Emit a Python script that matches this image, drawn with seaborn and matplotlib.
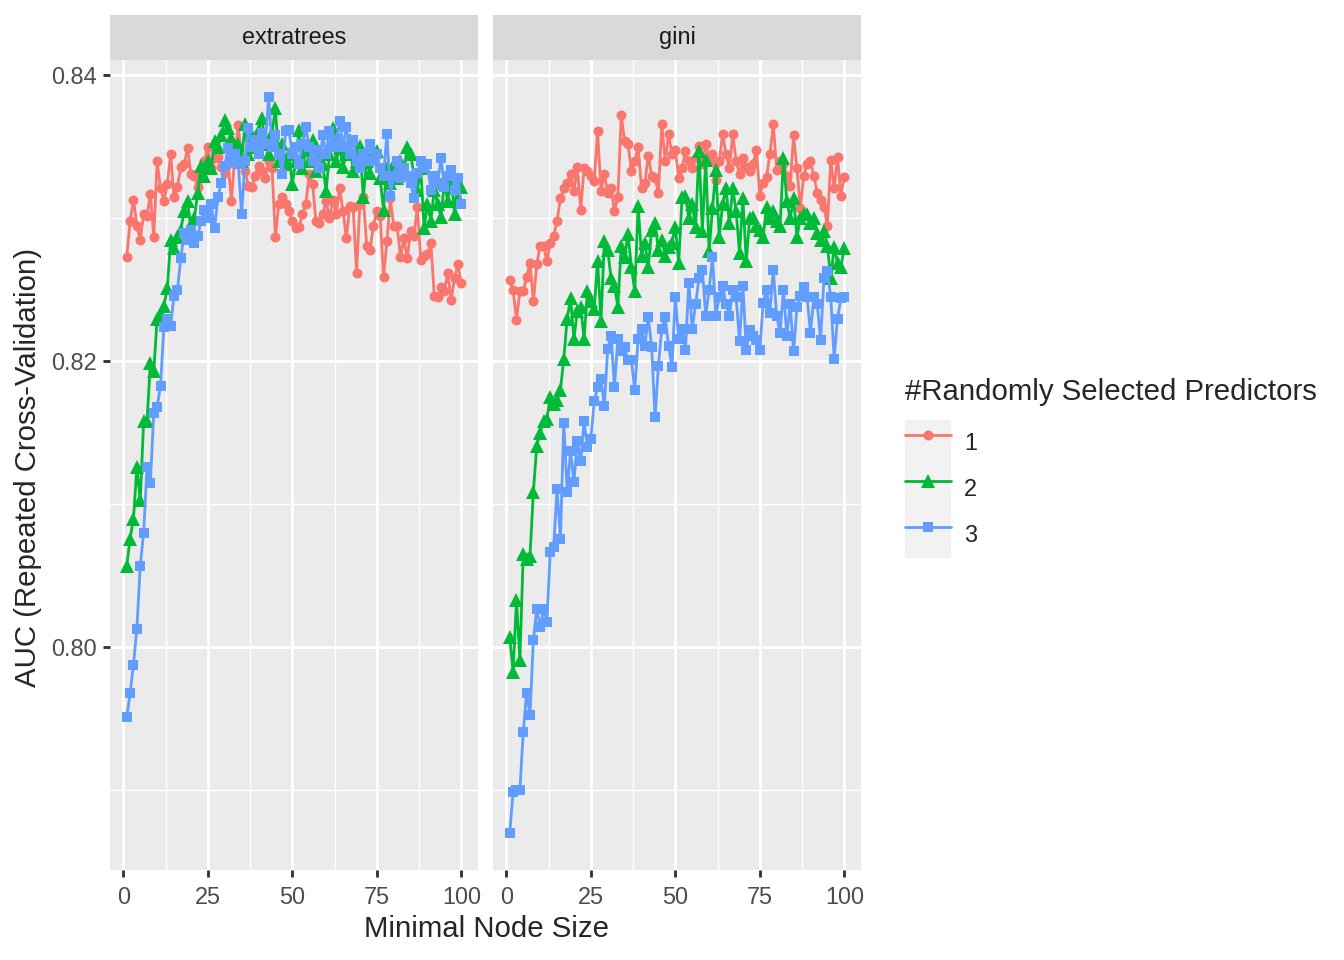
import numpy as np
import pandas as pd
import seaborn as sns
import matplotlib.pyplot as plt
from matplotlib.lines import Line2D
from matplotlib.patches import Patch, Rectangle
from matplotlib.legend_handler import HandlerTuple
from matplotlib.ticker import FixedLocator, FormatStrFormatter

node_size = list(range(1, 101))
split_rules = ['extratrees', 'gini']
mtry_levels = ['1', '2', '3']

# extratrees
et_mtry1 = [
    .8273, .8298, .8313, .8295, .8285, .8303, .8302, .8317, .8287, .8340,
    .8321, .8312, .8324, .8345, .8315, .8322, .8336, .8338, .8349, .8331,
    .8330, .8322, .8328, .8340, .8350, .8335, .8342, .8343, .8336, .8332,
    .8338, .8312, .8345, .8365, .8341, .8333, .8323, .8322, .8330, .8337,
    .8333, .8328, .8340, .8335, .8287, .8310, .8315, .8310, .8305, .8298,
    .8293, .8294, .8303, .8310, .8331, .8324, .8298, .8297, .8303, .8312,
    .8300, .8313, .8303, .8321, .8305, .8286, .8309, .8308, .8262, .8310,
    .8315, .8281, .8278, .8295, .8305, .8302, .8259, .8284, .8314, .8295,
    .8295, .8273, .8286, .8272, .8291, .8288, .8308, .8271, .8274, .8275,
    .8283, .8246, .8245, .8252, .8249, .8262, .8243, .8258, .8268, .8255,
]
et_mtry2 = [
    .8057, .8076, .8090, .8126, .8103, .8158, .8158, .8199, .8193, .8230,
    .8233, .8239, .8251, .8285, .8279, .8287, .8292, .8305, .8312, .8293,
    .8300, .8318, .8337, .8330, .8340, .8335, .8354, .8350, .8358, .8369,
    .8363, .8356, .8345, .8352, .8340, .8366, .8345, .8358, .8350, .8362,
    .8370, .8352, .8345, .8360, .8377, .8340, .8352, .8338, .8345, .8324,
    .8340, .8362, .8335, .8348, .8340, .8355, .8333, .8345, .8338, .8319,
    .8345, .8363, .8340, .8350, .8336, .8345, .8355, .8333, .8340, .8351,
    .8315, .8340, .8332, .8345, .8347, .8328, .8306, .8335, .8325, .8338,
    .8328, .8340, .8332, .8350, .8345, .8330, .8320, .8335, .8293, .8310,
    .8298, .8320, .8310, .8301, .8325, .8312, .8330, .8303, .8315, .8322,
]
et_mtry3 = [
    .7951, .7968, .7988, .8013, .8057, .8080, .8126, .8115, .8164, .8168,
    .8183, .8224, .8230, .8225, .8246, .8250, .8272, .8290, .8285, .8292,
    .8283, .8288, .8298, .8306, .8300, .8310, .8293, .8315, .8325, .8337,
    .8349, .8340, .8345, .8338, .8303, .8340, .8363, .8350, .8355, .8345,
    .8360, .8352, .8385, .8350, .8358, .8345, .8331, .8361, .8362, .8345,
    .8350, .8338, .8352, .8364, .8350, .8340, .8348, .8335, .8358, .8345,
    .8361, .8350, .8355, .8368, .8350, .8364, .8345, .8355, .8340, .8335,
    .8345, .8340, .8352, .8340, .8345, .8335, .8330, .8359, .8316, .8330,
    .8340, .8328, .8335, .8330, .8325, .8314, .8332, .8340, .8335, .8338,
    .8320, .8330, .8325, .8342, .8322, .8330, .8334, .8320, .8328, .8310,
]

# gini
gini_mtry1 = [
    .8257, .8250, .8229, .8249, .8249, .8259, .8269, .8242, .8268, .8281,
    .8281, .8270, .8283, .8288, .8298, .8314, .8321, .8325, .8331, .8319,
    .8336, .8306, .8335, .8333, .8330, .8326, .8361, .8319, .8331, .8318,
    .8321, .8305, .8315, .8372, .8354, .8352, .8333, .8340, .8350, .8321,
    .8325, .8344, .8330, .8328, .8318, .8366, .8340, .8359, .8345, .8348,
    .8328, .8335, .8347, .8340, .8335, .8342, .8351, .8338, .8352, .8340,
    .8345, .8327, .8340, .8359, .8345, .8335, .8359, .8340, .8331, .8342,
    .8336, .8333, .8338, .8348, .8316, .8325, .8329, .8345, .8366, .8334,
    .8340, .8338, .8330, .8323, .8358, .8335, .8307, .8330, .8338, .8340,
    .8330, .8318, .8313, .8308, .8295, .8341, .8321, .8343, .8316, .8329,
]
gini_mtry2 = [
    .8007, .7983, .8033, .7991, .8065, .8062, .8064, .8109, .8141, .8150,
    .8158, .8160, .8175, .8170, .8173, .8180, .8202, .8230, .8244, .8216,
    .8235, .8238, .8216, .8249, .8242, .8237, .8270, .8228, .8284, .8278,
    .8258, .8253, .8238, .8281, .8273, .8289, .8266, .8249, .8309, .8274,
    .8283, .8266, .8292, .8297, .8278, .8285, .8274, .8280, .8283, .8294,
    .8269, .8315, .8316, .8300, .8310, .8294, .8347, .8291, .8341, .8277,
    .8307, .8334, .8287, .8310, .8321, .8297, .8321, .8305, .8276, .8314,
    .8270, .8300, .8301, .8295, .8292, .8287, .8308, .8300, .8305, .8298,
    .8295, .8342, .8312, .8300, .8314, .8287, .8300, .8303, .8303, .8297,
    .8300, .8290, .8285, .8291, .8281, .8258, .8280, .8269, .8266, .8279,
]
gini_mtry3 = [
    .7870, .7899, .7900, .7900, .7941, .7968, .7953, .8005, .8027, .8014,
    .8027, .8018, .8067, .8070, .8111, .8076, .8157, .8109, .8137, .8116,
    .8144, .8130, .8158, .8140, .8146, .8172, .8182, .8188, .8169, .8209,
    .8218, .8182, .8216, .8207, .8210, .8201, .8201, .8180, .8216, .8223,
    .8211, .8231, .8210, .8161, .8197, .8223, .8231, .8211, .8196, .8245,
    .8216, .8223, .8208, .8255, .8223, .8240, .8258, .8264, .8232, .8250,
    .8273, .8232, .8245, .8253, .8240, .8232, .8250, .8245, .8214, .8253,
    .8208, .8222, .8218, .8215, .8208, .8241, .8250, .8234, .8264, .8232,
    .8220, .8250, .8218, .8240, .8207, .8238, .8246, .8252, .8245, .8220,
    .8245, .8240, .8215, .8258, .8263, .8245, .8202, .8230, .8244, .8245,
]

series = {
    ('extratrees', '1'): et_mtry1, ('extratrees', '2'): et_mtry2, ('extratrees', '3'): et_mtry3,
    ('gini', '1'): gini_mtry1, ('gini', '2'): gini_mtry2, ('gini', '3'): gini_mtry3,
}
rows = []
for (rule, m), vals in series.items():
    for n, v in zip(node_size, vals):
        rows.append({'splitrule': rule, 'mtry': m, 'min_node': n, 'auc': v})
df = pd.DataFrame(rows)

colors = {'1': '#F8766D', '2': '#00BA38', '3': '#619CFF'}
markers = {'1': 'o', '2': '^', '3': 's'}
msizes = {'1': 5.0, '2': 6.6, '3': 5.2}

sns.set_style('white')
plt.rcParams['font.family'] = ['Liberation Sans', 'DejaVu Sans']

W, H = 1344, 960
k = 4 / 3  # scale of the ggplot theme sizes
fig = plt.figure(figsize=(W / 144, H / 144), dpi=144)
ax1 = fig.add_axes([110 / W, 90 / H, 368 / W, 810 / H])
ax2 = fig.add_axes([493 / W, 90 / H, 368 / W, 810 / H])

ymin, ymax = 0.78443, 0.84108
for ax, rule in zip([ax1, ax2], split_rules):
    sub = df[df['splitrule'] == rule]
    ax.set_facecolor('#EBEBEB')
    for m in mtry_levels:
        sns.lineplot(data=sub[sub['mtry'] == m], x='min_node', y='auc', color=colors[m],
                     marker=markers[m], markersize=msizes[m], markeredgewidth=0,
                     linewidth=1.4, ax=ax, legend=False, zorder=3)
    ax.set_xlim(-3.95, 104.95)
    ax.set_ylim(ymin, ymax)
    ax.xaxis.set_major_locator(FixedLocator([0, 25, 50, 75, 100]))
    ax.xaxis.set_minor_locator(FixedLocator([12.5, 37.5, 62.5, 87.5]))
    ax.yaxis.set_major_locator(FixedLocator([0.80, 0.82, 0.84]))
    ax.yaxis.set_minor_locator(FixedLocator([0.79, 0.81, 0.83]))
    ax.yaxis.set_major_formatter(FormatStrFormatter('%.2f'))
    ax.grid(True, which='major', color='white', linewidth=1.07 * k, zorder=0)
    ax.grid(True, which='minor', color='white', linewidth=0.53 * k, zorder=0)
    ax.set_axisbelow(True)
    for s in ax.spines.values():
        s.set_visible(False)
    ax.tick_params(which='major', length=2.75 * k, width=1.07 * k, color='#333333',
                   labelsize=8.8 * k, labelcolor='#4D4D4D', pad=2.2 * k,
                   left=True, bottom=True)
    ax.tick_params(axis='x', which='major', pad=3.4 * k)
    ax.tick_params(which='minor', length=0)
    ax.set_xlabel('')
    ax.set_ylabel('')
    # facet strip
    ax.add_patch(Rectangle((0, 1), 1, 45 / 810, transform=ax.transAxes,
                           facecolor='#D9D9D9', edgecolor='none', clip_on=False))
    ax.text(0.5, 1 + 22.5 / 810, rule, transform=ax.transAxes, ha='center', va='center',
            fontsize=8.8 * k, color='#1A1A1A')

ax2.tick_params(axis='y', labelleft=False, left=False)
fig.text(28 / W, 1 - 467 / H, 'AUC (Repeated Cross-Validation)', rotation=90,
         ha='center', va='center', fontsize=11 * k)
fig.text(486 / W, 1 - 929 / H, 'Minimal Node Size', ha='center', va='center', fontsize=11 * k)

# legend
fig.text(905 / W, 1 - 392 / H, '#Randomly Selected Predictors', ha='left', va='center',
         fontsize=11 * k)
fs = 8.8 * k
key_pt = 46 * 72 / 144
handles = [(Patch(facecolor='#F2F2F2', edgecolor='none'),
            Line2D([], [], color=colors[m], marker=markers[m], markersize=msizes[m],
                   markeredgewidth=0, linewidth=1.4)) for m in mtry_levels]
leg = fig.legend(handles, mtry_levels,
                 handler_map={tuple: HandlerTuple(ndivide=1, pad=0)},
                 loc='upper left', bbox_to_anchor=(905 / W, 1 - 420 / H),
                 frameon=False, fontsize=fs,
                 handlelength=key_pt / fs, handleheight=(key_pt / fs - 0.245) / 0.65,
                 labelspacing=0, handletextpad=0.55,
                 borderpad=0, borderaxespad=0, numpoints=1)

fig.savefig('out.png', dpi=144)
